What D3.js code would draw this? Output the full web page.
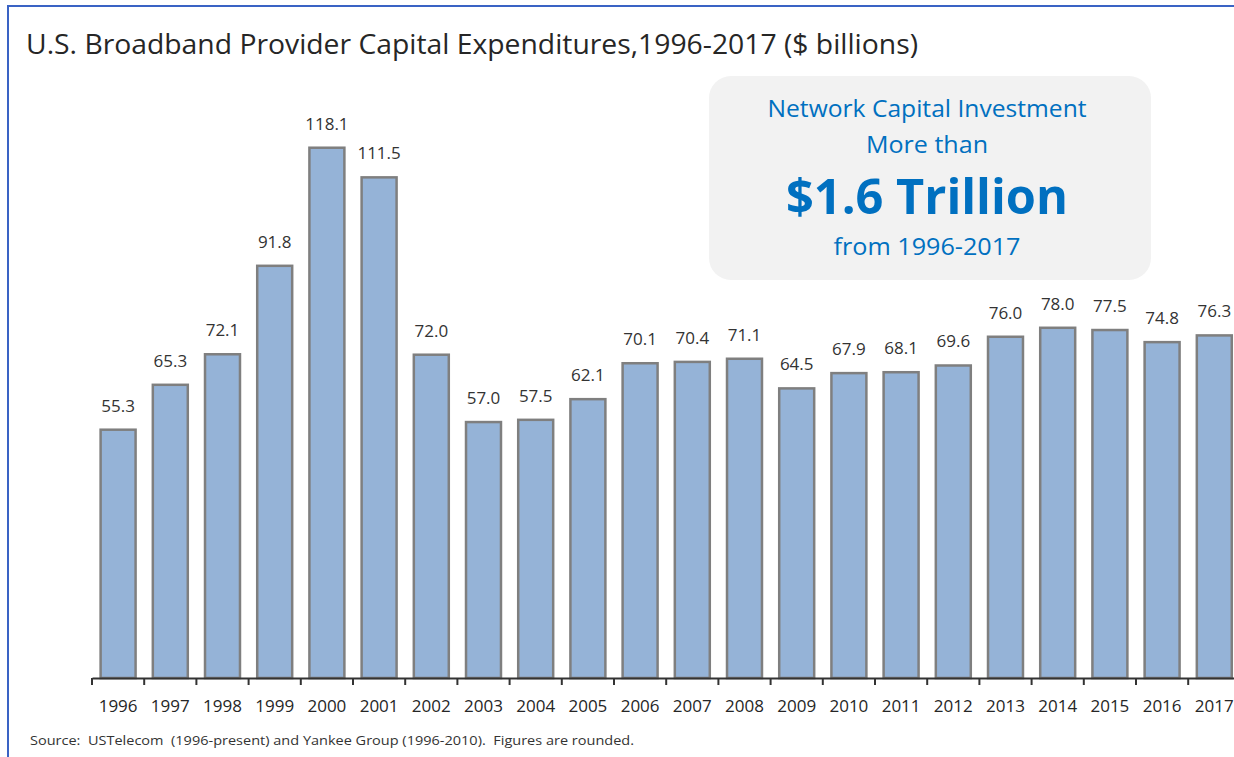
<!DOCTYPE html>
<html><head><meta charset="utf-8">
<script src="https://cdn.jsdelivr.net/npm/d3@7"></script>
<style>
html,body{margin:0;padding:0;background:#fff;overflow:hidden}
svg{display:block}
text{white-space:pre}
</style></head>
<body>
<svg id="chart" width="1234" height="757"></svg>
<script>
const years = ["1996","1997","1998","1999","2000","2001","2002","2003","2004","2005","2006","2007","2008","2009","2010","2011","2012","2013","2014","2015","2016","2017"];
const capex = [55.3,65.3,72.1,91.8,118.1,111.5,72.0,57.0,57.5,62.1,70.1,70.4,71.1,64.5,67.9,68.1,69.6,76.0,78.0,77.5,74.8,76.3];
const titleText = "U.S. Broadband Provider Capital Expenditures,1996-2017 ($ billions)";
const calloutLines = ["Network Capital Investment","More than","$1.6 Trillion","from 1996-2017"];
const sourceText = "Source:  USTelecom  (1996-present) and Yankee Group (1996-2010).  Figures are rounded.";

const svg = d3.select("#chart");
const font = "'Open Sans', 'Noto Sans', sans-serif";

// frame
svg.append("path").attr("d","M8,757 L8,6 L1234,6").attr("fill","none").attr("stroke","#3a63c4").attr("stroke-width",2);

svg.append("text").attr("x",26).attr("y",54).attr("font-family",font).attr("font-size",28)
  .attr("fill","#262626").attr("textLength",892).attr("lengthAdjust","spacingAndGlyphs").text(titleText);

const x = d3.scaleBand().domain(years).range([92, 1240.4]).paddingInner(0.33).paddingOuter(0.165);
const y = d3.scaleLinear().domain([0,151]).range([678,0]);

const g = svg.append("g");
g.selectAll("rect.bar").data(capex).join("rect").attr("class","bar")
  .attr("x",(d,i)=>x(years[i])).attr("width",x.bandwidth())
  .attr("y",d=>y(d)).attr("height",d=>y(0)-y(d))
  .attr("fill","#95b3d7").attr("stroke","#7f7f7f").attr("stroke-width",2.5);

g.selectAll("text.val").data(capex).join("text").attr("class","val")
  .attr("x",(d,i)=>x(years[i])+x.bandwidth()/2).attr("y",d=>y(d)-18)
  .attr("text-anchor","middle").attr("font-family",font).attr("font-size",17).attr("fill","#333")
  .text(d=>d.toFixed(1));

// axis
const axis = svg.append("g").attr("transform","translate(0,678)")
  .call(d3.axisBottom(x).tickSize(0).tickPadding(21.5));
axis.select(".domain").attr("stroke","#333").attr("stroke-width",2);
axis.selectAll("text").attr("font-family",font).attr("font-size",17).attr("fill","#262626");
const step = x.step();
axis.selectAll("line.bt").data(d3.range(years.length+1)).join("line").attr("class","bt")
  .attr("x1",i=>92+i*step).attr("x2",i=>92+i*step).attr("y1",0).attr("y2",7)
  .attr("stroke","#333").attr("stroke-width",2);

// callout
const cb = svg.append("g");
cb.append("rect").attr("x",709).attr("y",76).attr("width",442).attr("height",204).attr("rx",22)
  .attr("fill","#f2f2f2");
const cx = 927;
const lineY = [117,153,214,255];
const lineSize = [24,24,48,24];
const lineLen = [319,122,282,187];
cb.selectAll("text").data(calloutLines).join("text")
  .attr("x",cx).attr("y",(d,i)=>lineY[i]).attr("text-anchor","middle")
  .attr("font-family",font).attr("font-size",(d,i)=>lineSize[i]).attr("font-weight",(d,i)=>i===2?"bold":"normal")
  .attr("textLength",(d,i)=>lineLen[i]).attr("lengthAdjust","spacingAndGlyphs")
  .attr("fill","#0070c0").text(d=>d);

svg.append("text").attr("x",30).attr("y",745).attr("font-family",font).attr("font-size",12.5)
  .attr("textLength",604).attr("lengthAdjust","spacingAndGlyphs")
  .attr("fill","#333").text(sourceText);
</script>
</body></html>
